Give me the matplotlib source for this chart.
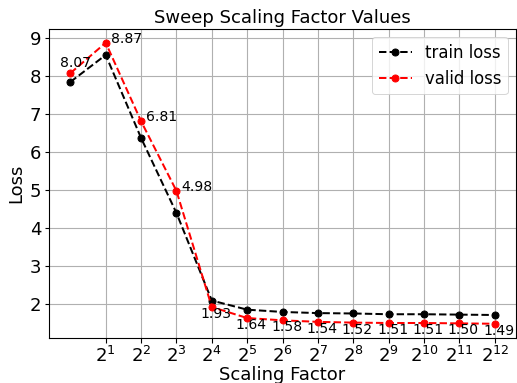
import numpy as np
import matplotlib
matplotlib.use('Agg')
import matplotlib.pyplot as plt
from matplotlib.ticker import MultipleLocator

# scaling factor exponents (2^0 .. 2^12)
exponents = list(range(13))
train_loss = [7.84, 8.55, 6.37, 4.40, 2.10, 1.86, 1.80, 1.77, 1.76, 1.74, 1.74, 1.73, 1.72]
valid_loss = [8.07, 8.87, 6.81, 4.98, 1.93, 1.64, 1.58, 1.54, 1.52, 1.51, 1.51, 1.50, 1.49]
tick_exponents = list(range(1, 13))

scales = [2 ** e for e in exponents]

fig = plt.figure(figsize=(517 / 72, 383 / 72), dpi=72)
ax = fig.add_subplot(111)
fig.subplots_adjust(left=0.095, right=0.998, top=0.925, bottom=0.118)

ax.plot(scales, train_loss, 'k--', marker='o', markersize=7, linewidth=2, label='train loss')
ax.plot(scales, valid_loss, 'r--', marker='o', markersize=7, linewidth=2, label='valid loss')
ax.set_xscale('log', base=2)
ax.set_xticks([2 ** e for e in tick_exponents])
ax.set_xticklabels(['$2^{%d}$' % e for e in tick_exponents])
ax.minorticks_off()
ax.yaxis.set_major_locator(MultipleLocator(1))

for i, (s, v) in enumerate(zip(scales, valid_loss)):
    if i == 0:
        off, ha, va = (5, 6), 'center', 'baseline'
    elif i < 4:
        off, ha, va = (5, 0), 'left', 'baseline'
    else:
        off, ha, va = (4, 0), 'center', 'top'
    ax.annotate('%.2f' % v, (s, v), xytext=off, textcoords='offset points',
                ha=ha, va=va, fontsize=14)

ax.set_title('Sweep Scaling Factor Values', fontsize=18)
ax.set_xlabel('Scaling Factor', fontsize=18, labelpad=0)
ax.set_ylabel('Loss', fontsize=18)
ax.tick_params(labelsize=18, width=1.1, length=4.5)
ax.grid(True, linewidth=1.1)
for sp in ax.spines.values():
    sp.set_linewidth(1.1)
ax.legend(loc='upper right', fontsize=16.5)

plt.savefig('out.png', dpi=72)
